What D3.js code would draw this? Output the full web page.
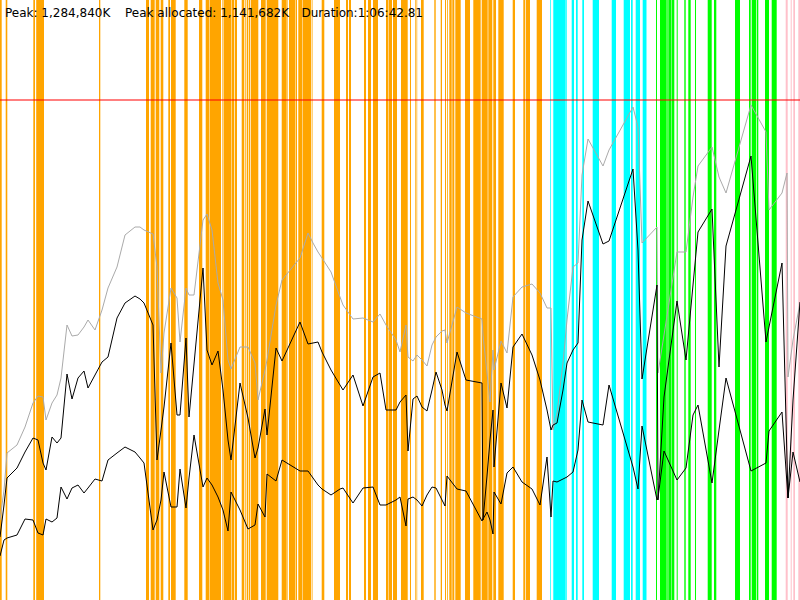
<!DOCTYPE html>
<html>
<head>
<meta charset="utf-8">
<script src="https://cdn.jsdelivr.net/npm/d3@7"></script>
<style>
  html, body { margin: 0; padding: 0; background: #fff; overflow: hidden; }
  svg { display: block; }
</style>
</head>
<body>
<div id="chart"></div>
<script>
// ---- data (time in seconds, memory in MB) ----
const headerLabels = ["Peak: 1,284,840K", "Peak allocated: 1,141,682K", "Duration:1:06:42.81"];
const timeSpan = [0, 4000];
const memSpan = [0, 1500];
const heapLimit = 1250;

const sampleTimes = [0,20,35,85,125,165,190,215,230,260,285,305,335,360,390,420,440,475,510,540,585,625,675,700,720,765,785,805,820,855,885,900,930,945,970,1015,1035,1060,1090,1115,1140,1155,1200,1240,1275,1290,1325,1335,1380,1410,1500,1540,1565,1590,1610,1655,1700,1715,1765,1815,1865,1900,1930,1980,2000,2030,2040,2065,2085,2110,2135,2160,2180,2210,2225,2235,2285,2330,2410,2415,2435,2450,2465,2470,2505,2535,2565,2610,2660,2700,2735,2755,2765,2785,2815,2835,2865,2890,2910,2940,3015,3045,3165,3190,3210,3285,3290,3320,3385,3430,3465,3490,3560,3595,3630,3755,3830,3845,3910,3935,3940,3965,4000];

const totalHeap = [200,275,367.5,387.5,432.5,492.5,510,507.5,450,492.5,512.5,555,687.5,660,662.5,682.5,700,675,725,780,832.5,912.5,932.5,932.5,925,915,832.5,567.5,667.5,780,755,645,780,762.5,762.5,950,965,925,792.5,750,600,577.5,632.5,632.5,592.5,500,575,600,737.5,800,855,917.5,892.5,870,855,820,757.5,737.5,702.5,705,695,715,687.5,650,620,687.5,607.5,597.5,612.5,600,585,637.5,657.5,672.5,675,642.5,732.5,717.5,702.5,662.5,567.5,495,625,575,647.5,617.5,757.5,782.5,790,767.5,730,730,425,467.5,592.5,700,832.5,842.5,1062.5,1152.5,1085,1125,1232.5,1182.5,892.5,932.5,567.5,662.5,870,870,1007.5,1085,1132.5,1057.5,1017.5,1237.5,1170,975,1017.5,1067.5,557.5,650,742.5];

const usedHeap = [157.5,237.5,305,330,370,405,400,342.5,325,407.5,392.5,405,565,502.5,555,572.5,530,562.5,595,607.5,705,742.5,760,752.5,742.5,687.5,350,425,482.5,642.5,462.5,462.5,655,457.5,590,830,625,587.5,622.5,525,400,350,542.5,455,355,380,477.5,412.5,630,597.5,695,640,642.5,645,620,575,537.5,525,562.5,485,557.5,567.5,475,475,495,512.5,372.5,502.5,510,482.5,472.5,525,570,525,487.5,472.5,620,550,542.5,200,310,400,475,332.5,542.5,480,632.5,665,612.5,550,475,425,437.5,442.5,525,592.5,625,642.5,900,997.5,890,897.5,1077.5,875,552.5,787.5,250,507.5,747.5,600,787.5,920,977.5,582.5,885,1110,645,682.5,842.5,352.5,255,500,745];

const tenuredHeap = [110,150,155,162.5,202.5,200,167.5,162.5,202.5,195,205,282.5,252.5,280,287.5,267.5,280,302.5,297.5,350,367.5,382.5,370,355,342.5,175,200,250,320,232.5,232.5,327.5,230,305,412.5,282.5,305,287.5,257.5,225,172.5,270,225,177.5,187.5,240,207.5,315,297.5,350,322.5,322.5,305,287.5,277.5,262.5,277.5,280,242.5,280,282.5,237.5,237.5,250,257.5,185,252.5,257.5,250,235,262.5,282.5,280,250,235,310,277.5,272.5,197.5,202.5,220,200,165,270,240,317.5,332.5,295,277.5,237.5,357.5,207.5,297.5,295,302.5,307.5,320,375,500,445,437.5,537.5,332.5,277.5,435,250,255,372.5,300,330,462.5,487.5,292.5,425,555,322.5,342.5,422.5,470,290,255,370,295];

// event intervals [start, end] in seconds
const orangeEvents = [[0,8.5],[28.5,36.5],[166.5,175],[181,220],[495,501.5],[730,745],[753.5,773.5],[778.5,796.5],[803.5,816.5],[841.5,850],[855,878.5],[921.5,938.5],
  [995,1011.5],[1028.5,1045],[1047,1049.5],[1050,1105],[1111.5,1114.5],[1117.5,1157.5],[1160,1171.5],[1175,1185],[1208.5,1221.5],[1225,1228.5],[1233.5,1241.5],[1245,1251.5],[1255,1291.5],[1305,1328.5],[1333.5,1391.5],[1408.5,1433.5],[1436,1439],[1445,1475],[1477.5,1485],[1491.5,1511.5],[1513.5,1555],[1558.5,1562.5],[1608.5,1621.5],
  [1670,1700],[1730,1740],[1745,1755],[1820,1830],[1840,1855],[1865,1890],[1930,1940],[1942.5,1960],[1965,1985],
  [2005,2038.5],[2050,2055],[2075,2078.5],[2082.5,2086],[2105,2118.5],[2171.5,2178.5],[2203.5,2210],[2225,2230],[2235,2239],[2246.5,2258.5],[2261.5,2271.5],[2276.5,2303.5],[2325,2350],[2366.5,2403.5],[2408.5,2438.5],[2441.5,2461.5],[2466.5,2480],[2491.5,2518.5],[2563.5,2575],[2616.5,2625],[2628.5,2650],[2683.5,2710]];
const cyanEvents = [[2750,2753.5],[2766.5,2825],[2826.5,2833.5],[2858.5,2870],[2880,2888.5],[2911.5,2920],[2963.5,2995],[3058.5,3080],[3118.5,3150],[3155,3163.5],[3178.5,3200],[3213.5,3230],[3232.5,3235]];
const greenEvents = [[3280,3285],[3300,3333.5],[3336.5,3340],[3341.5,3357.5],[3359.5,3371.5],[3383.5,3388.5],[3421.5,3428.5],[3441.5,3453.5],[3475,3480],[3538.5,3558.5],[3570,3581.5],[3675,3700],[3745,3753.5],[3758.5,3781.5],[3785,3791.5],[3825,3845],[3858.5,3883.5]];
const pinkEvents = [[3928.5,3938.5],[3953.5,3958.5],[3966.5,3975],[3991.5,4000]];

// ---- drawing ----
const W = 800, H = 600;
const svg = d3.select("#chart").append("svg").attr("width", W).attr("height", H);
const x = d3.scaleLinear().domain(timeSpan).range([0, W]);
const y = d3.scaleLinear().domain(memSpan).range([H, 0]);

const eventGroups = [
  { data: orangeEvents, color: "#FFA500" },
  { data: cyanEvents, color: "#00FFFF" },
  { data: greenEvents, color: "#00FF00" },
  { data: pinkEvents, color: "#FFC0CB" }
];
eventGroups.forEach(g => {
  svg.append("g").selectAll("rect").data(g.data).join("rect")
    .attr("x", d => x(d[0]))
    .attr("width", d => x(d[1]) - x(d[0]))
    .attr("y", 0)
    .attr("height", H)
    .attr("fill", g.color);
});

svg.append("line")
  .attr("x1", 0).attr("x2", W)
  .attr("y1", y(heapLimit)).attr("y2", y(heapLimit))
  .attr("stroke", "#ff0000").attr("stroke-opacity", 0.5).attr("stroke-width", 2);

const series = [
  { vals: totalHeap, color: "#aaaaaa" },
  { vals: usedHeap, color: "#000000" },
  { vals: tenuredHeap, color: "#000000" }
];
series.forEach(s => {
  const line = d3.line().x((d, i) => x(sampleTimes[i])).y(d => y(d));
  svg.append("path").datum(s.vals)
    .attr("d", line)
    .attr("fill", "none")
    .attr("stroke", s.color)
    .attr("stroke-width", 1);
});

const labelX = [5, 125, 301.5];
svg.append("g").selectAll("text").data(headerLabels).join("text")
  .attr("x", (d, i) => labelX[i])
  .attr("y", 17)
  .attr("font-family", "DejaVu Sans, sans-serif")
  .attr("font-size", 12)
  .attr("fill", "#000")
  .text(d => d);
</script>
</body>
</html>
